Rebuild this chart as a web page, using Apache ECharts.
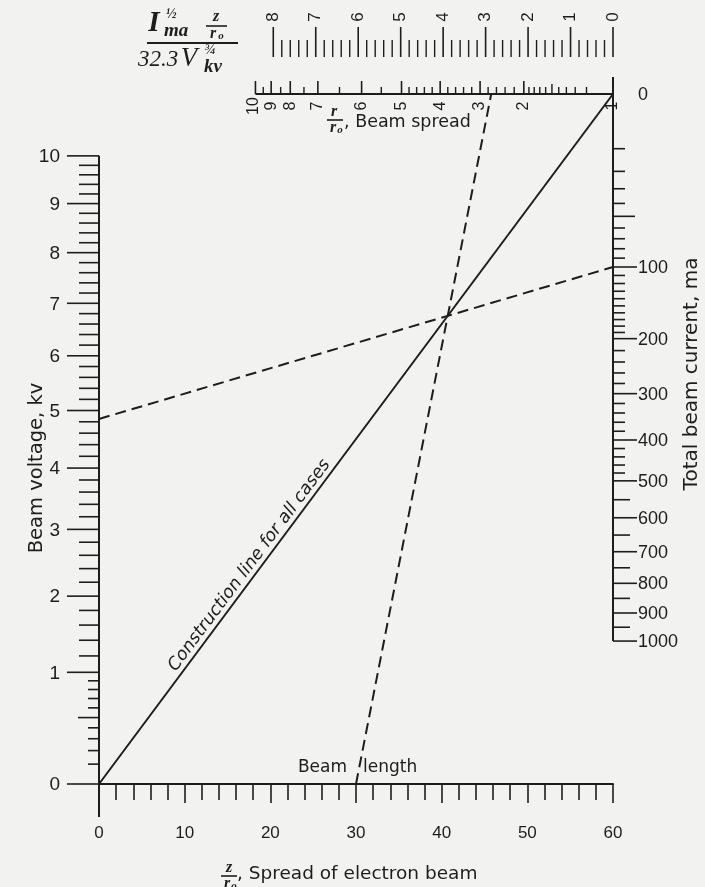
<!DOCTYPE html>
<html><head><meta charset="utf-8">
<script src="https://cdn.jsdelivr.net/npm/echarts/dist/echarts.min.js"></script>
<style>html,body{margin:0;padding:0;background:#f2f2f0;}#c{width:705px;height:887px;}</style>
</head><body><div id="c"></div>
<script>
// ---------------- data (tick values of each nomograph scale) ----------------
const spreadTicks = [0, 10, 20, 30, 40, 50, 60];                 // z/r0, bottom scale
const voltageMajor = [0, 1, 2, 3, 4, 5, 6, 7, 8, 9, 10];          // kv
const voltageFine = [0.1, 0.2, 0.3, 0.4, 0.6, 0.7, 0.8, 0.9];
const voltageHalf = [0.5];
const voltageMinor = [1.2, 1.4, 1.6, 1.8, 2.2, 2.4, 2.6, 2.8, 3.2, 3.4, 3.6, 3.8, 4.2, 4.4, 4.6, 4.8,
  5.2, 5.4, 5.6, 5.8, 6.2, 6.4, 6.6, 6.8, 7.2, 7.4, 7.6, 7.8, 8.2, 8.4, 8.6, 8.8, 9.2, 9.4, 9.6, 9.8];
const currentMajor = [100, 200, 300, 400, 500, 600, 700, 800, 900, 1000]; // ma
const currentZero = [0];
const currentLong = [50];
const currentMid = [550, 650, 750, 850, 950];
const currentMinor = [10, 20, 30, 40, 60, 70, 80, 90, 110, 120, 130, 140, 150, 160, 170, 180, 190,
  220, 240, 260, 280, 320, 340, 360, 380, 420, 440, 460, 480];
const paramMajor = [0, 1, 2, 3, 4, 5, 6, 7, 8];                   // I^1/2 z/r0 / 32.3 V^3/4
const paramMinor = [0.2, 0.4, 0.6, 0.8, 1.2, 1.4, 1.6, 1.8, 2.2, 2.4, 2.6, 2.8, 3.2, 3.4, 3.6, 3.8,
  4.2, 4.4, 4.6, 4.8, 5.2, 5.4, 5.6, 5.8, 6.2, 6.4, 6.6, 6.8, 7.2, 7.4, 7.6, 7.8];
const ratioMajor = [1, 2, 3, 4, 5, 6, 7, 8, 9, 10];               // r/r0, beam spread
// where each r/r0 label sits on the parameter scale
const ratioMajorParam = [0, 2.1, 3.13, 4.07, 4.98, 5.92, 6.95, 7.6, 8.05, 8.42];
const ratioMid = [1.5];
const ratioMinor = [1.1, 1.2, 1.3, 1.4, 1.6, 1.7, 1.8, 1.9, 2.2, 2.4, 2.6, 2.8, 3.2, 3.4, 3.6, 3.8,
  4.2, 4.4, 4.6, 4.8, 5.5, 6.5, 7.5, 8.5, 9.5];
const exampleVoltage = 4.85;   // kv
const exampleCurrent = 100;    // ma
const exampleLength = 30;      // z/r0

// ---------------- nomograph scale functions ----------------
const V_SCALE = 111.7 / 690, I_SCALE = 17.3 / 690, T_UNIT = 4.957;
const hV = v => Math.pow(v, 0.75) * V_SCALE;          // voltage scale (V^3/4)
const hI = i => 1 - Math.sqrt(i) * I_SCALE;           // current scale (I^1/2)
const zT = t => 60 - t * T_UNIT;                      // parameter scale, right to left
function spreadIntegral(R) {                          // universal beam spread shape: integral dR / sqrt(ln R)
  const a = Math.log(R); if (a <= 0) return 0;
  let s = 0, f = 1;
  for (let n = 0; n < 40; n++) { if (n > 0) f *= n; s += Math.pow(a, n) / (f * (2 * n + 1)); }
  return 2 * Math.sqrt(a) * s;
}
function ratioParam(R) {                              // r/r0 -> parameter, through the read label positions
  let k = 0;
  while (k < ratioMajor.length - 2 && R > ratioMajor[k + 1]) k++;
  const r0 = ratioMajor[k], r1 = ratioMajor[k + 1];
  const f = (spreadIntegral(R) - spreadIntegral(r0)) / (spreadIntegral(r1) - spreadIntegral(r0));
  return ratioMajorParam[k] + f * (ratioMajorParam[k + 1] - ratioMajorParam[k]);
}

const INK = '#1d1d1d';
const FONT = '"Liberation Sans", Arial, sans-serif';
const TFONT = '"DejaVu Sans", sans-serif';
const SERIF = '"Liberation Serif", "DejaVu Serif", serif';

function seg(x1, y1, x2, y2, w) { return { type: 'line', shape: { x1, y1, x2, y2 }, style: { stroke: INK, lineWidth: w || 1.5 } }; }
function lab(text, x, y, font, align, rot) {
  return { type: 'text', x, y, rotation: rot || 0, style: { text, fill: INK, font, align: align || 'center', verticalAlign: 'middle' } };
}
function scaleSeries(values, build) {
  return {
    type: 'custom', coordinateSystem: 'cartesian2d', clip: false, silent: true, animation: false, z: 4,
    data: values.map(v => [v, 0]),
    renderItem: (params, api) => ({ type: 'group', children: build(api.value(0), api) })
  };
}

const chart = echarts.init(document.getElementById('c'));

const series = [
  // scale lines
  scaleSeries([0], (d, api) => {
    const a = api.coord([0, hV(10)]), b = api.coord([0, hV(0)]);
    const c = api.coord([60, hI(0)]), e = api.coord([60, hI(1000)]);
    const f = api.coord([zT(ratioParam(10)), 1]);
    return [seg(a[0], a[1], b[0], b[1] + 33, 2), seg(c[0], c[1] - 17, e[0], e[1], 2), seg(f[0], f[1], c[0], c[1], 2)];
  }),
  // voltage scale
  scaleSeries(voltageMajor, (v, api) => { const p = api.coord([0, hV(v)]);
    return [seg(p[0] - 32, p[1], p[0], p[1], 1.6), lab(String(v), p[0] - 39, p[1] + 1, '19px ' + FONT, 'right')]; }),
  scaleSeries(voltageMinor, (v, api) => { const p = api.coord([0, hV(v)]); return [seg(p[0] - 20, p[1], p[0], p[1], 1.6)]; }),
  scaleSeries(voltageHalf, (v, api) => { const p = api.coord([0, hV(v)]); return [seg(p[0] - 21, p[1], p[0], p[1], 1.6)]; }),
  scaleSeries(voltageFine, (v, api) => { const p = api.coord([0, hV(v)]); return [seg(p[0] - 11, p[1], p[0], p[1], 1.6)]; }),
  // current scale
  scaleSeries(currentMajor, (i, api) => { const p = api.coord([60, hI(i)]);
    return [seg(p[0], p[1], p[0] + 24, p[1], 1.6), lab(String(i), p[0] + 25, p[1] + 1, '18px ' + FONT, 'left')]; }),
  scaleSeries(currentZero, (i, api) => { const p = api.coord([60, hI(i)]); return [lab(String(i), p[0] + 25, p[1] + 1, '18px ' + FONT, 'left')]; }),
  scaleSeries(currentLong, (i, api) => { const p = api.coord([60, hI(i)]); return [seg(p[0], p[1], p[0] + 22, p[1], 1.6)]; }),
  scaleSeries(currentMid, (i, api) => { const p = api.coord([60, hI(i)]); return [seg(p[0], p[1], p[0] + 17, p[1], 1.6)]; }),
  scaleSeries(currentMinor, (i, api) => { const p = api.coord([60, hI(i)]); return [seg(p[0], p[1], p[0] + 12, p[1], 1.6)]; }),
  // parameter scale (top)
  scaleSeries(paramMajor, (t, api) => { const p = api.coord([zT(t), 1]);
    return [seg(p[0], p[1] - 37, p[0], p[1] - 67, 1.6), lab(String(t), p[0], p[1] - 77, '17px ' + FONT, 'center', Math.PI / 2)]; }),
  scaleSeries(paramMinor, (t, api) => { const p = api.coord([zT(t), 1]); return [seg(p[0], p[1] - 37, p[0], p[1] - 54, 1.4)]; }),
  // beam spread r/r0 scale
  scaleSeries(ratioMajor, (r, api) => { const p = api.coord([zT(ratioParam(r)), 1]);
    return [seg(p[0], p[1], p[0], p[1] - 13, 1.6), lab(String(r), p[0] - (r === 10 ? 2 : 0), p[1] + 12, '16px ' + FONT, 'center', Math.PI / 2)]; }),
  scaleSeries(ratioMid, (r, api) => { const p = api.coord([zT(ratioParam(r)), 1]); return [seg(p[0], p[1], p[0], p[1] - 10, 1.4)]; }),
  scaleSeries(ratioMinor, (r, api) => { const p = api.coord([zT(ratioParam(r)), 1]); return [seg(p[0], p[1], p[0], p[1] - 7, 1.4)]; }),
];

// construction line and worked example
const hv = hV(exampleVoltage), hi = hI(exampleCurrent);
const pCross = hv / (1 - hi + hv);                 // intersection with construction line
const zTop = exampleLength + (60 * pCross - exampleLength) / pCross;
series.push(
  { type: 'line', data: [[0, hV(0)], [60, hI(0)]], symbol: 'none', silent: true, animation: false, z: 3,
    lineStyle: { color: INK, width: 2 } },
  { type: 'line', data: [[0, hv], [60, hi]], symbol: 'none', silent: true, animation: false, z: 3,
    lineStyle: { color: INK, width: 2, type: [11, 6] } },
  { type: 'line', data: [[exampleLength, 0], [zTop, 1]], symbol: 'none', silent: true, animation: false, z: 3,
    lineStyle: { color: INK, width: 2, type: [11, 6] } }
);

chart.setOption({
  backgroundColor: '#f2f2f0',
  animation: false,
  grid: { left: 99, right: 92, top: 94, bottom: 103 },
  xAxis: {
    type: 'value', min: spreadTicks[0], max: spreadTicks[spreadTicks.length - 1], interval: 10,
    axisLine: { lineStyle: { color: INK, width: 2 } },
    axisTick: { length: 19, lineStyle: { color: INK, width: 1.6 } },
    minorTick: { show: true, splitNumber: 5, length: 16, lineStyle: { color: INK, width: 1.6 } },
    splitLine: { show: false }, minorSplitLine: { show: false },
    axisLabel: { margin: 41, color: INK, fontSize: 17, fontFamily: FONT }
  },
  yAxis: { type: 'value', min: 0, max: 1, show: false },
  series: series
});

// ---------------- texts ----------------
const P = (z, h) => chart.convertToPixel({ gridIndex: 0 }, [z, h]);
const c0 = P(0, hV(0)), c1 = P(60, hI(0));
const ang = Math.atan2(c0[1] - c1[1], c1[0] - c0[0]);
const cm = P(18.5, 18.5 / 60);
const nx = -Math.sin(ang), ny = -Math.cos(ang);
const bl = P(exampleLength, 0);

function T(text, x, y, font, align, rot, extra) {
  return Object.assign({ type: 'text', x, y, rotation: rot || 0, silent: true,
    style: { text, fill: INK, font, align: align || 'center', verticalAlign: 'middle' } }, extra || {});
}
function L(x1, y1, x2, y2, w) { return { type: 'line', silent: true, shape: { x1, y1, x2, y2 }, style: { stroke: INK, lineWidth: w || 1.5 } }; }

chart.setOption({
  graphic: [
    T('Construction line for all cases', cm[0] + nx * 10, cm[1] + ny * 10, 'italic 17.5px ' + TFONT, 'center', ang),
    T('Beam', bl[0] - 9, bl[1] - 16, '17px ' + TFONT, 'right'),
    T('length', bl[0] + 7, bl[1] - 16, '17px ' + TFONT, 'left'),
    T('Beam voltage, kv', 37, 468, '19.5px ' + TFONT, 'center', Math.PI / 2),
    T('Total beam current, ma', 692, 374, '20px ' + TFONT, 'center', Math.PI / 2),
    // bottom title
    T('z', 229, 868, 'italic bold 16px ' + SERIF),
    L(221, 876, 237, 876, 1.6),
    T('r', 227, 884, 'italic bold 16px ' + SERIF),
    T('o', 234, 886, 'italic bold 11px ' + SERIF),
    T(', Spread of electron beam', 237, 874, '18.5px ' + TFONT, 'left'),
    // top title
    T('r', 334, 112, 'italic bold 16px ' + SERIF),
    L(327, 120, 343, 120, 1.6),
    T('r', 333, 128, 'italic bold 16px ' + SERIF),
    T('o', 340, 130, 'italic bold 11px ' + SERIF),
    T(', Beam spread', 344, 122, '17.5px ' + TFONT, 'left'),
    // formula
    T('I', 154, 24, 'italic bold 29px ' + SERIF),
    T('½', 166, 14, 'italic bold 14px ' + SERIF, 'left'),
    T('ma', 164, 31, 'italic bold 19px ' + SERIF, 'left'),
    T('z', 216, 17, 'italic bold 16px ' + SERIF),
    L(206, 26, 227, 26, 1.6),
    T('r', 213, 34, 'italic bold 16px ' + SERIF),
    T('o', 221, 36, 'italic bold 11px ' + SERIF),
    L(147, 43, 238, 43, 2),
    T('32.3', 158, 60, 'italic 23px ' + SERIF),
    T('V', 189, 59, 'italic 27px ' + SERIF),
    T('¾', 204, 50, 'italic 15px ' + SERIF, 'left'),
    T('kv', 204, 67, 'italic bold 19px ' + SERIF, 'left')
  ]
});
</script></body></html>
